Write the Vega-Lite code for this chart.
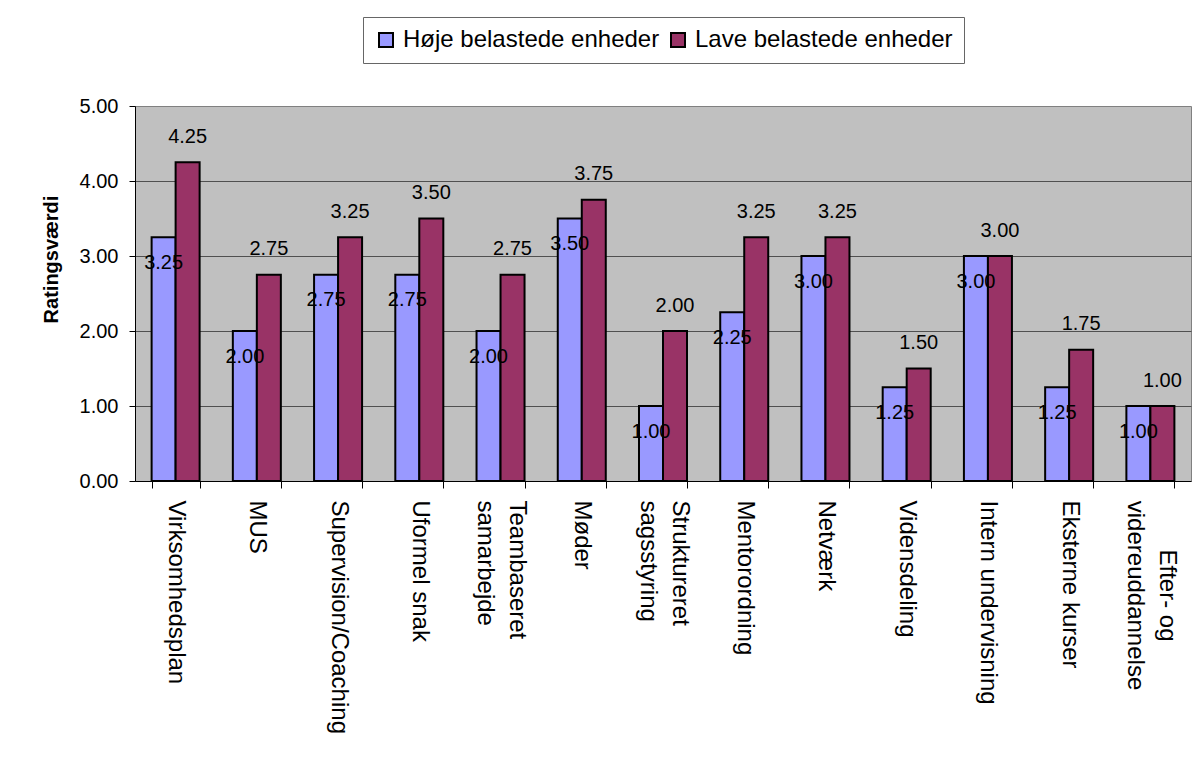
{
  "$schema": "https://vega.github.io/schema/vega-lite/v6.json",
  "autosize": {"type": "none"},
  "padding": {"left": 135, "top": 106, "right": 5, "bottom": 276},
  "width": 1056,
  "height": 375,
  "background": "white",
  "config": {
    "font": "Liberation Sans",
    "view": {"fill": "#C0C0C0", "stroke": "#808080", "strokeWidth": 1},
    "axis": {"labelColor": "black", "titleColor": "black", "domainColor": "black", "tickColor": "black", "domainWidth": 1, "tickWidth": 1},
    "axisX": {"title": null, "grid": false, "labelAngle": 90, "labelAlign": "left", "labelBaseline": "middle", "labelFontSize": 24, "labelLineHeight": 32, "labelPadding": 12, "labelLimit": 0, "tickBand": "extent", "tickSize": 7}
  },
  "resolve": {"axis": {"x": "independent"}},
  "data": {
    "values": [
      {"tiltag": "Virksomhedsplan", "gruppe": "Høje belastede enheder", "vaerdi": 3.25},
      {"tiltag": "Virksomhedsplan", "gruppe": "Lave belastede enheder", "vaerdi": 4.25},
      {"tiltag": "MUS", "gruppe": "Høje belastede enheder", "vaerdi": 2.00},
      {"tiltag": "MUS", "gruppe": "Lave belastede enheder", "vaerdi": 2.75},
      {"tiltag": "Supervision/Coaching", "gruppe": "Høje belastede enheder", "vaerdi": 2.75},
      {"tiltag": "Supervision/Coaching", "gruppe": "Lave belastede enheder", "vaerdi": 3.25},
      {"tiltag": "Uformel snak", "gruppe": "Høje belastede enheder", "vaerdi": 2.75},
      {"tiltag": "Uformel snak", "gruppe": "Lave belastede enheder", "vaerdi": 3.50},
      {"tiltag": "Teambaseret\nsamarbejde", "gruppe": "Høje belastede enheder", "vaerdi": 2.00},
      {"tiltag": "Teambaseret\nsamarbejde", "gruppe": "Lave belastede enheder", "vaerdi": 2.75},
      {"tiltag": "Møder", "gruppe": "Høje belastede enheder", "vaerdi": 3.50},
      {"tiltag": "Møder", "gruppe": "Lave belastede enheder", "vaerdi": 3.75},
      {"tiltag": "Struktureret\nsagsstyring", "gruppe": "Høje belastede enheder", "vaerdi": 1.00},
      {"tiltag": "Struktureret\nsagsstyring", "gruppe": "Lave belastede enheder", "vaerdi": 2.00},
      {"tiltag": "Mentorordning", "gruppe": "Høje belastede enheder", "vaerdi": 2.25},
      {"tiltag": "Mentorordning", "gruppe": "Lave belastede enheder", "vaerdi": 3.25},
      {"tiltag": "Netværk", "gruppe": "Høje belastede enheder", "vaerdi": 3.00},
      {"tiltag": "Netværk", "gruppe": "Lave belastede enheder", "vaerdi": 3.25},
      {"tiltag": "Vidensdeling", "gruppe": "Høje belastede enheder", "vaerdi": 1.25},
      {"tiltag": "Vidensdeling", "gruppe": "Lave belastede enheder", "vaerdi": 1.50},
      {"tiltag": "Intern undervisning", "gruppe": "Høje belastede enheder", "vaerdi": 3.00},
      {"tiltag": "Intern undervisning", "gruppe": "Lave belastede enheder", "vaerdi": 3.00},
      {"tiltag": "Eksterne kurser", "gruppe": "Høje belastede enheder", "vaerdi": 1.25},
      {"tiltag": "Eksterne kurser", "gruppe": "Lave belastede enheder", "vaerdi": 1.75},
      {"tiltag": "Efter- og\nvidereuddannelse", "gruppe": "Høje belastede enheder", "vaerdi": 1.00},
      {"tiltag": "Efter- og\nvidereuddannelse", "gruppe": "Lave belastede enheder", "vaerdi": 1.00}
    ]
  },
  "encoding": {
    "xOffset": {
      "field": "gruppe",
      "type": "nominal",
      "sort": ["Høje belastede enheder", "Lave belastede enheder"],
      "scale": {"paddingInner": 0, "paddingOuter": 0}
    },
    "y": {
      "field": "vaerdi",
      "type": "quantitative",
      "scale": {"domain": [0, 5], "nice": false},
      "axis": {
        "title": "Ratingsværdi",
        "titleFontSize": 20,
        "titleFontWeight": "bold",
        "titleAngle": -90,
        "titleX": -78,
        "titleY": 153,
        "titleAlign": "center",
        "titleBaseline": "alphabetic",
        "values": [0, 1, 2, 3, 4, 5],
        "format": ".2f",
        "labelFontSize": 20,
        "labelPadding": 11,
        "tickSize": 6,
        "grid": true,
        "gridColor": {"condition": {"test": "datum.value == 0 || datum.value == 5", "value": "transparent"}, "value": "#505050"},
        "gridWidth": 1
      }
    }
  },
  "layer": [
    {
      "mark": {"type": "bar", "stroke": "black", "strokeWidth": 2},
      "encoding": {
        "x": {
          "field": "tiltag",
          "type": "nominal",
          "sort": null,
          "scale": {"paddingInner": 0.409, "paddingOuter": 0.2045},
          "axis": {"orient": "bottom", "labelExpr": "indexof('' + datum.label, '\\n') >= 0 ? '' : datum.label"}
        },
        "color": {
          "field": "gruppe",
          "type": "nominal",
          "sort": ["Høje belastede enheder", "Lave belastede enheder"],
          "scale": {"range": ["#9999FF", "#993366"]},
          "legend": {
            "title": null,
            "orient": "none",
            "legendX": 228,
            "legendY": -89,
            "direction": "horizontal",
            "fillColor": "white",
            "strokeColor": "#666666",
            "padding": 11,
            "symbolType": "square",
            "symbolSize": 196,
            "symbolStrokeColor": "black",
            "symbolStrokeWidth": 2,
            "symbolOpacity": 1,
            "labelFontSize": 24,
            "labelColor": "black",
            "labelOffset": 5,
            "labelLimit": 0,
            "columnPadding": 6
          }
        }
      }
    },
    {
      "transform": [{"filter": "datum.gruppe == 'Høje belastede enheder'"}],
      "mark": {"type": "text", "dy": 31.5, "baseline": "alphabetic", "align": "center", "fontSize": 20, "color": "black"},
      "encoding": {
        "x": {
          "field": "tiltag",
          "type": "nominal",
          "sort": null,
          "scale": {"paddingInner": 0.409, "paddingOuter": 0.2045},
          "axis": {
            "orient": "bottom",
            "domain": false,
            "tickColor": "transparent",
            "labelOffset": 16,
            "labelExpr": "indexof('' + datum.label, '\\n') >= 0 && indexof('' + datum.label, 'Efter') != 0 ? split('' + datum.label, '\\n') : ''"
          }
        },
        "text": {"field": "vaerdi", "type": "quantitative", "format": ".2f"}
      }
    },
    {
      "transform": [{"filter": "datum.gruppe == 'Lave belastede enheder'"}],
      "mark": {"type": "text", "dy": -19.5, "baseline": "alphabetic", "align": "center", "fontSize": 20, "color": "black"},
      "encoding": {
        "x": {
          "field": "tiltag",
          "type": "nominal",
          "sort": null,
          "scale": {"paddingInner": 0.409, "paddingOuter": 0.2045},
          "axis": {
            "orient": "bottom",
            "domain": false,
            "tickColor": "transparent",
            "labelOffset": 16,
            "labelAlign": "center",
            "labelPadding": 107,
            "labelExpr": "indexof('' + datum.label, 'Efter') == 0 ? split('' + datum.label, '\\n') : ''"
          }
        },
        "text": {"field": "vaerdi", "type": "quantitative", "format": ".2f"}
      }
    }
  ]
}
